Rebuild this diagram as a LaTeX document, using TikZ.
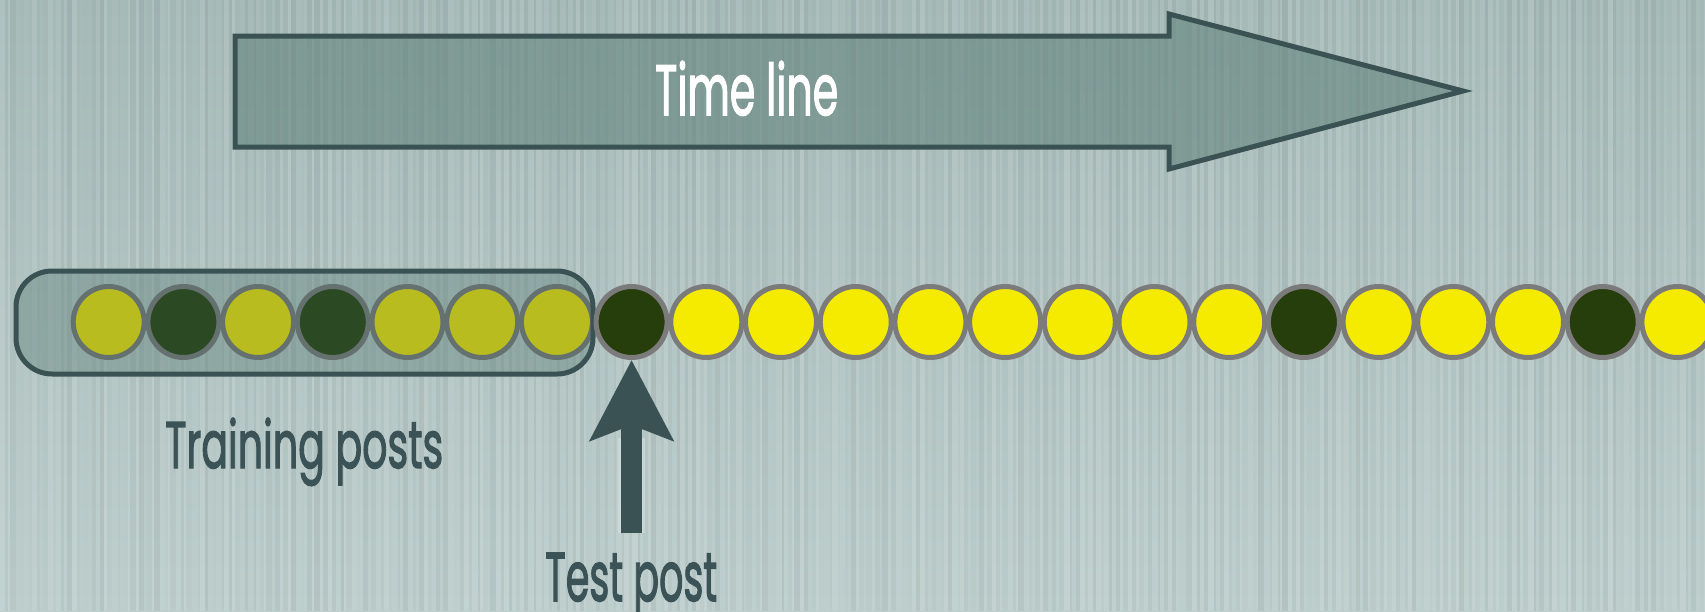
\documentclass[tikz,border=0pt]{standalone}
\usepackage{fontspec}
\setmainfont{Poppins}
\newfontfamily\medfont{Poppins}[FakeBold=2.2]
\usepackage{graphicx}
\usetikzlibrary{arrows.meta}
\definecolor{bgtop}{HTML}{A6BAB8}
\definecolor{bgbot}{HTML}{BDCECD}
\definecolor{slate}{HTML}{3A5254}
\definecolor{arrowfill}{HTML}{63847D}
\definecolor{olive}{HTML}{B8BC1E}
\definecolor{dgreenA}{HTML}{2B4A24}
\definecolor{dgreenB}{HTML}{263D0C}
\definecolor{yell}{HTML}{F5EB00}
\definecolor{ringA}{HTML}{64716E}
\definecolor{ringB}{HTML}{7B7B7B}
\definecolor{txt}{HTML}{3B5356}
\begin{document}
\begin{tikzpicture}[x=1pt,y=-1pt,
  post/.style={circle,inner sep=0pt,minimum size=71pt,line width=5pt},
  tro/.style={post,fill=olive,draw=ringA},
  trd/.style={post,fill=dgreenA,draw=ringA},
  ty/.style={post,fill=yell,draw=ringB},
  td/.style={post,fill=dgreenB,draw=ringB},
  label/.style={anchor=base west,inner sep=0pt,text=txt},
  outline/.style={draw=slate,line width=5pt,line join=miter}]
\useasboundingbox (0,0) rectangle (1705,611);
\shade[top color=bgtop,bottom color=bgbot] (0,0) rectangle (1705,611);
\pgfmathsetseed{17}
\foreach \i in {0,...,213}{
  \pgfmathsetmacro\o{0.12*rnd}
  \pgfmathsetmacro\p{0.05*rnd}
  \pgfmathsetmacro\w{2+4*rnd}
  \fill[white,opacity=\o] ({8*\i},0) rectangle ({8*\i+\w},611);
  \fill[black,opacity=\p] ({8*\i+\w},0) rectangle ({8*\i+8},611);
}
% time line arrow
\fill[arrowfill,opacity=0.6] (235,36) -- (1169,36) -- (1169,14) -- (1463,91) -- (1169,169) -- (1169,147) -- (235,147) -- cycle;
\draw[outline] (235,36) -- (1169,36) -- (1169,14) -- (1463,91) -- (1169,169) -- (1169,147) -- (235,147) -- cycle;
\node[anchor=base west,inner sep=0pt,text=white] (tl) at (655,115)
  {\resizebox{183pt}{\height}{\fontsize{71}{71}\medfont Time line}};
% training box fill
\fill[arrowfill,opacity=0.45,rounded corners=36pt] (16,271) rectangle (593,374);
% posts
\foreach \i/\s in {0/tro,1/trd,2/tro,3/trd,4/tro,5/tro,6/tro}
  \node[\s] (c\i) at ({108.7+74.7*\i},322) {};
\draw[outline,rounded corners=36pt] (16,271) rectangle (593,374);
\foreach \i/\s in {7/td,8/ty,9/ty,10/ty,11/ty,12/ty,13/ty,14/ty,15/ty,16/td,17/ty,18/ty,19/ty,20/td,21/ty}
  \node[\s] (c\i) at ({108.7+74.7*\i},322) {};
% labels
\node[label] (train) at (165,468)
  {\resizebox{278pt}{\height}{\fontsize{66}{66}\medfont Training posts}};
\node[label] (test) at (545,601)
  {\resizebox{172pt}{\height}{\fontsize{69}{69}\medfont Test post}};
% test pointer
\coordinate (tb) at (632,533);
\draw[white,opacity=0.25,line width=27pt] (c7.south |- tb) -- ++(0,-95);
\draw[slate,line width=21pt,-{Stealth[length=80pt,width=82pt,inset=15pt]}] (c7.south |- tb) -- (c7.south);
\end{tikzpicture}
\end{document}
